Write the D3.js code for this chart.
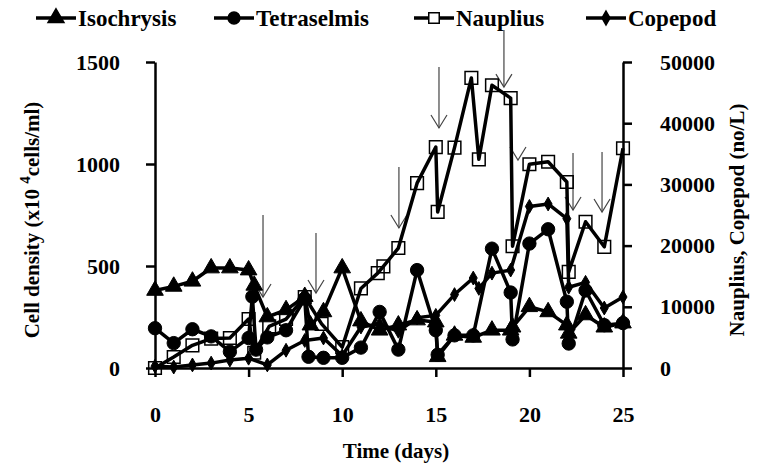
<!DOCTYPE html>
<html>
<head>
<meta charset="utf-8">
<script src="https://cdn.jsdelivr.net/npm/d3@7/dist/d3.min.js"></script>
<style>
  body { margin: 0; background: #fff; }
  text { font-family: "Liberation Serif", "Times New Roman", serif; font-weight: bold; }
</style>
</head>
<body>
<svg width="766" height="464"></svg>
<script>
// waarden afgelezen uit de figuur
// linker as: Isochrysis en Tetraselmis (x10^4 cells/ml)
var isoDays = [0, 1, 2, 3, 4, 5, 5.3, 6, 7, 8, 8.3, 9, 10, 11, 12, 13, 14, 15, 15.1, 16, 17, 18, 19, 19.1, 20, 21, 22, 22.1, 23, 24, 25];
var isochrysis = [380, 400, 425, 490, 490, 480, 405, 250, 285, 350, 210, 275, 490, 230, 185, 210, 235, 225, 55, 160, 150, 185, 185, 200, 300, 275, 210, 170, 260, 200, 220];

var tetDays = [0, 1, 2, 3, 4, 5, 5.2, 5.4, 6, 7, 8, 8.2, 9, 10, 11, 12, 13, 14, 15, 15.1, 16, 17, 18, 19, 19.1, 20, 21, 22, 22.1, 23, 24, 25];
var tetraselmis = [195, 122, 190, 155, 80, 147, 350, 90, 150, 185, 340, 55, 50, 50, 100, 275, 90, 480, 185, 65, 160, 160, 585, 370, 140, 610, 680, 325, 120, 380, 210, 220];

// rechter as: Nauplius en Copepod (no/L)
var naupDays = [0, 1, 2, 3, 4, 5, 5.3, 6.1, 7, 8, 8.9, 10, 11, 11.9, 12.2, 13, 14, 15, 15.1, 16, 16.9, 17.3, 18, 19, 19.1, 20, 21, 22, 22.1, 23, 24, 25];
var nauplius = [0, 1800, 3700, 4800, 4900, 8000, 2500, 6800, 8000, 11600, 7200, 3400, 13000, 15500, 16600, 19600, 30200, 36100, 25500, 36000, 47400, 34100, 46200, 44100, 19900, 33300, 33700, 30400, 15700, 23900, 19800, 35900];

var copDays = [0, 1, 2, 3, 4, 5, 6, 7, 8, 9, 10, 11, 12, 13, 14, 15, 16, 17, 17.3, 18, 19, 20, 21, 22, 22.1, 23, 24, 25];
var copepod = [300, 150, 500, 800, 1300, 1600, 500, 2900, 4500, 4900, 2000, 6700, 7200, 6000, 8200, 8600, 12000, 14700, 13000, 15500, 16000, 26400, 26800, 24400, 13200, 14000, 9800, 11600];

// pijlen (oogstmomenten): dag, bovenkant en punt in no/L
var arrowDays = [5.77, 8.6, 13.03, 15.17, 18.64, 19.39, 22.33, 23.88];
var arrowTop = [25000, 22060, 32840, 49180, 55230, 33990, 35130, 35290];
var arrowTip = [11600, 12250, 22880, 39220, 45900, 33990, 25820, 25490];

var xTicks = [0, 5, 10, 15, 20, 25];
var leftTicks = [0, 500, 1000, 1500];
var rightTicks = [0, 10000, 20000, 30000, 40000, 50000];

var svg = d3.select("svg");

var x = d3.scaleLinear().domain([0, 25]).range([155, 623]);
var yL = d3.scaleLinear().domain([0, 1500]).range([368, 62]);
var yR = d3.scaleLinear().domain([0, 50000]).range([368, 62]);

function zip(days, vals) {
  return days.map(function(d, i) { return {day: d, v: vals[i]}; });
}

// assen
var fmt = d3.format("d");
var gx = svg.append("g").attr("transform", "translate(0,368)")
  .call(d3.axisBottom(x).tickValues(xTicks).tickFormat(fmt).tickSize(9).tickSizeOuter(0).tickPadding(29));
var gl = svg.append("g").attr("transform", "translate(155,0)")
  .call(d3.axisLeft(yL).tickValues(leftTicks).tickFormat(fmt).tickSize(9).tickSizeOuter(0).tickPadding(26));
var gr = svg.append("g").attr("transform", "translate(623,0)")
  .call(d3.axisRight(yR).tickValues(rightTicks).tickFormat(fmt).tickSize(9).tickSizeOuter(0).tickPadding(28));

[gx, gl, gr].forEach(function(g) {
  g.selectAll("path, line").attr("stroke", "#000").attr("stroke-width", 2.5);
  g.selectAll("text").attr("font-size", 22).attr("fill", "#000")
    .style("font-family", "Liberation Serif").style("font-weight", "bold");
});

// astitels
svg.append("text").attr("x", 396).attr("y", 458).attr("text-anchor", "middle")
  .attr("font-size", 21).text("Time (days)");

var lt = svg.append("text").attr("transform", "translate(39,220) rotate(-90)")
  .attr("text-anchor", "middle").attr("font-size", 21);
lt.append("tspan").text("Cell density (x10 ");
lt.append("tspan").attr("dy", -9).attr("font-size", 15).text("4");
lt.append("tspan").attr("dy", 9).text("cells/ml)");

svg.append("text").attr("transform", "translate(744,220) rotate(-90)")
  .attr("text-anchor", "middle").attr("font-size", 21).text("Nauplius, Copepod (no/L)");

// pijlen
var arrows = svg.append("g").attr("stroke", "#444").attr("stroke-width", 1.2).attr("fill", "none");
arrowDays.forEach(function(d, i) {
  var ax = x(d), top = yR(arrowTop[i]), tip = yR(arrowTip[i]);
  if (top < tip) arrows.append("line").attr("x1", ax).attr("x2", ax).attr("y1", top).attr("y2", tip);
  arrows.append("path").attr("d", "M" + (ax - 8) + "," + (tip - 13) + "L" + ax + "," + tip + "L" + (ax + 8) + "," + (tip - 13));
});

// reeksen
var series = [
  {name: "Isochrysis", data: zip(isoDays, isochrysis), y: yL, sym: d3.symbolTriangle, size: 120, fill: "#000"},
  {name: "Tetraselmis", data: zip(tetDays, tetraselmis), y: yL, sym: d3.symbolCircle, size: 140, fill: "#000"},
  {name: "Nauplius", data: zip(naupDays, nauplius), y: yR, sym: d3.symbolSquare, size: 160, fill: "none"},
  {name: "Copepod", data: zip(copDays, copepod), y: yR, sym: d3.symbolDiamond, size: 55, fill: "#000"}
];

series.forEach(function(s) {
  var line = d3.line().x(function(d) { return x(d.day); }).y(function(d) { return s.y(d.v); });
  svg.append("path").datum(s.data).attr("d", line)
    .attr("fill", "none").attr("stroke", "#000").attr("stroke-width", 3.5).attr("stroke-linejoin", "round");
});

series.forEach(function(s) {
  svg.selectAll(null).data(s.data).enter().append("path")
    .attr("transform", function(d) { return "translate(" + x(d.day) + "," + s.y(d.v) + ")"; })
    .attr("d", d3.symbol().type(s.sym).size(s.size))
    .attr("fill", s.fill).attr("stroke", "#000").attr("stroke-width", s.fill === "none" ? 1.5 : 1);
});

// legenda
var legX = [36, 214, 414, 586];
series.forEach(function(s, i) {
  var g = svg.append("g").attr("transform", "translate(" + legX[i] + ",18)");
  g.append("line").attr("x1", 0).attr("x2", 40).attr("stroke", "#000").attr("stroke-width", 3.5);
  g.append("path").attr("transform", "translate(20,0)")
    .attr("d", d3.symbol().type(s.sym).size(s.sym === d3.symbolDiamond ? 55 : 110))
    .attr("fill", s.fill === "none" ? "#fff" : "#000").attr("stroke", "#000").attr("stroke-width", 1.5);
  g.append("text").attr("x", 42).attr("y", 8).attr("font-size", 23).text(s.name);
});
</script>
</body>
</html>
